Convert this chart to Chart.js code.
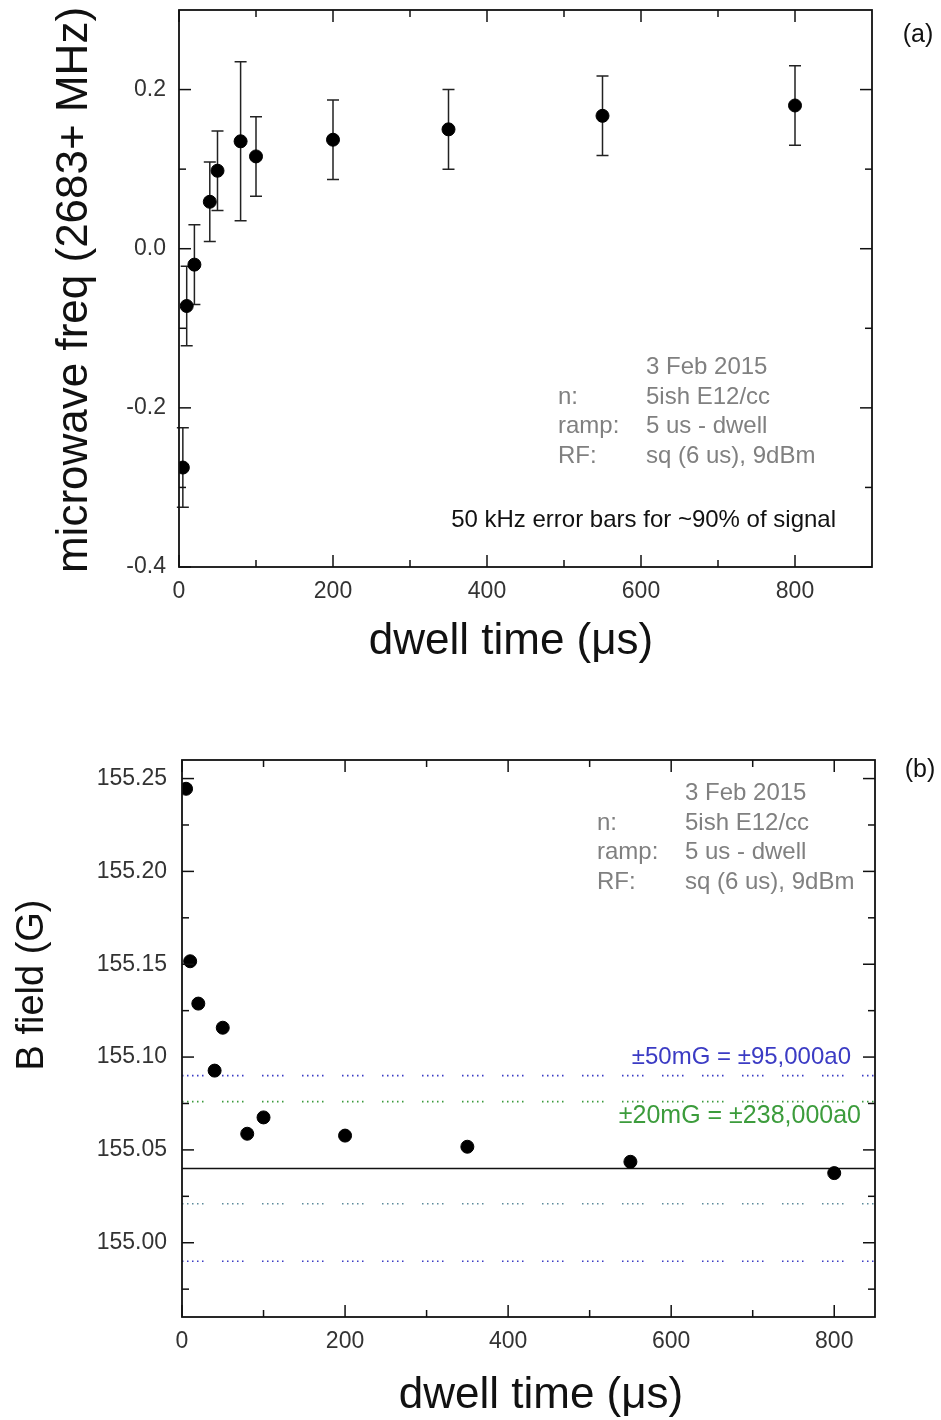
<!DOCTYPE html>
<html>
<head>
<meta charset="utf-8">
<script src="https://cdn.jsdelivr.net/npm/chart.js@4.4.1/dist/chart.umd.min.js"></script>
<style>
  body { margin: 0; background: #fff; width: 941px; height: 1420px; position: relative; overflow: hidden; }
  canvas { position: absolute; left: 0; }
  #chartA { top: 0; }
  #chartB { top: 700px; }
</style>
</head>
<body>
<canvas id="chartA" width="941" height="700"></canvas>
<canvas id="chartB" width="941" height="720"></canvas>
<script>
Chart.defaults.font.family = "'Liberation Sans', Arial, sans-serif";
Chart.defaults.color = '#333';
Chart.defaults.animation = false;

// === Data, panel (a) ===
const dwellA = [5, 10, 20, 40, 50, 80, 100, 200, 350, 550, 800];
const freqA = [-0.275, -0.072, -0.02, 0.059, 0.098, 0.135, 0.116, 0.137, 0.15, 0.167, 0.18];
const errA = [0.05, 0.05, 0.05, 0.05, 0.05, 0.1, 0.05, 0.05, 0.05, 0.05, 0.05];
const xTicksA = [0, 200, 400, 600, 800];
const xMinorA = [100, 300, 500, 700];
const yTicksA = [-0.4, -0.2, 0.0, 0.2];
const yMinorA = [-0.3, -0.1, 0.1];

// === Data, panel (b) ===
const dwellB = [5, 10, 20, 40, 50, 80, 100, 200, 350, 550, 800];
const fieldB = [155.2445, 155.1516, 155.1288, 155.0927, 155.1158, 155.0587, 155.0675, 155.0577, 155.0517, 155.0436, 155.0375];
const centerB = 155.04;
const band50B = [155.09, 154.99];
const band20B = [155.076, 155.021];
const xTicksB = [0, 200, 400, 600, 800];
const xMinorB = [100, 300, 500, 700];
const yTicksB = [155.00, 155.05, 155.10, 155.15, 155.20, 155.25];
const yMinorB = [154.975, 155.025, 155.075, 155.125, 155.175, 155.225];

// frame round the plot, ticks pointing inwards on all four sides
const frameTicks = {
    id: 'frameTicks',
    afterDraw(chart, args, opts) {
        const { ctx, chartArea: a, scales: { x, y } } = chart;
        ctx.save();
        ctx.strokeStyle = '#111';
        ctx.lineWidth = 1.5;
        const seg = (x1, y1, x2, y2) => { ctx.beginPath(); ctx.moveTo(x1, y1); ctx.lineTo(x2, y2); ctx.stroke(); };
        const xt = (vals, len) => vals.forEach(v => {
            const p = x.getPixelForValue(v);
            seg(p, a.bottom, p, a.bottom - len);
            seg(p, a.top, p, a.top + len);
        });
        const yt = (vals, len) => vals.forEach(v => {
            const p = y.getPixelForValue(v);
            seg(a.left, p, a.left + len, p);
            seg(a.right, p, a.right - len, p);
        });
        xt(opts.xMajor, 12); xt(opts.xMinor, 7);
        yt(opts.yMajor, 12); yt(opts.yMinor, 7);
        ctx.lineWidth = 1.8;
        ctx.strokeRect(a.left, a.top, a.right - a.left, a.bottom - a.top);
        ctx.restore();
    }
};

const errorBars = {
    id: 'errorBars',
    beforeDatasetsDraw(chart, args, opts) {
        if (!opts.err) return;
        const { ctx, scales: { x, y } } = chart;
        const pts = chart.data.datasets[0].data;
        ctx.save();
        ctx.strokeStyle = '#222';
        ctx.lineWidth = 1.5;
        pts.forEach((pt, i) => {
            const px = x.getPixelForValue(pt.x);
            const top = y.getPixelForValue(pt.y + opts.err[i]);
            const bot = y.getPixelForValue(pt.y - opts.err[i]);
            ctx.beginPath();
            ctx.moveTo(px, top); ctx.lineTo(px, bot);
            ctx.moveTo(px - 6, top); ctx.lineTo(px + 6, top);
            ctx.moveTo(px - 6, bot); ctx.lineTo(px + 6, bot);
            ctx.stroke();
        });
        ctx.restore();
    }
};

// free text: notes, panel letters and the axis titles
const notes = {
    id: 'notes',
    afterDraw(chart, args, opts) {
        const ctx = chart.ctx;
        opts.items.forEach(n => {
            ctx.save();
            ctx.textBaseline = 'middle';
            ctx.font = `${n.size || 24}px 'Liberation Sans', Arial, sans-serif`;
            ctx.fillStyle = n.color || '#808080';
            ctx.textAlign = n.align || 'left';
            ctx.translate(n.x, n.y);
            if (n.rotate) ctx.rotate(n.rotate);
            ctx.fillText(n.text, 0, 0);
            ctx.restore();
        });
    }
};

function axes(opts) {
    return {
        x: {
            type: 'linear', min: opts.xMin, max: opts.xMax,
            grid: { display: false, drawTicks: false }, border: { display: false },
            afterBuildTicks: s => { s.ticks = opts.xTicks.map(v => ({ value: v })); },
            afterFit: s => { s.height = opts.xHeight; s.paddingLeft = 0; s.paddingRight = 0; },
            ticks: { font: { size: 23 }, color: '#333', padding: 11, maxRotation: 0, callback: v => String(v) }
        },
        y: {
            type: 'linear', min: opts.yMin, max: opts.yMax,
            grid: { display: false, drawTicks: false }, border: { display: false },
            afterBuildTicks: s => { s.ticks = opts.yTicks.map(v => ({ value: v })); },
            afterFit: s => { s.width = opts.yWidth; s.paddingTop = 0; s.paddingBottom = 0; },
            ticks: { font: { size: 23 }, color: '#333', padding: opts.yPad, callback: v => v.toFixed(opts.digits) }
        }
    };
}

// === Panel (a) ===
new Chart(document.getElementById('chartA'), {
    type: 'scatter',
    data: {
        datasets: [{
            data: dwellA.map((t, i) => ({ x: t, y: freqA[i] })),
            backgroundColor: '#000',
            borderColor: '#000',
            pointRadius: 6.5
        }]
    },
    options: {
        responsive: false,
        layout: { padding: { left: 0, right: 69, top: 10, bottom: 0 } },
        scales: axes({
            xMin: 0, xMax: 900, xTicks: xTicksA, xHeight: 133,
            yMin: -0.4, yMax: 0.3, yTicks: yTicksA, yWidth: 179, digits: 1, yPad: 13
        }),
        plugins: {
            legend: { display: false },
            tooltip: { enabled: false },
            frameTicks: { xMajor: xTicksA, xMinor: xMinorA, yMajor: yTicksA, yMinor: yMinorA },
            errorBars: { err: errA },
            notes: {
                items: [
                    { text: '3 Feb 2015', x: 646, y: 367 },
                    { text: 'n:', x: 558, y: 397 },
                    { text: '5ish E12/cc', x: 646, y: 397 },
                    { text: 'ramp:', x: 558, y: 426 },
                    { text: '5 us - dwell', x: 646, y: 426 },
                    { text: 'RF:', x: 558, y: 456 },
                    { text: 'sq (6 us), 9dBm', x: 646, y: 456 },
                    { text: '50 kHz error bars for ~90% of signal', x: 836, y: 520, align: 'right', color: '#111' },
                    { text: '(a)', x: 918, y: 35, align: 'center', color: '#111', size: 25 },
                    { text: 'dwell time (\u03bcs)', x: 511, y: 642, align: 'center', color: '#111', size: 44 },
                    { text: 'microwave freq (2683+ MHz)', x: 75, y: 290, align: 'center', color: '#111', size: 44, rotate: -Math.PI / 2 }
                ]
            }
        }
    },
    plugins: [errorBars, frameTicks, notes]
});

// === Panel (b) ===
const dots = [1.5, 3.5, 1.5, 3.5, 1.5, 3.5, 1.5, 3.5, 1.5, 18.5];
const hline = (level, color, dash) => ({
    type: 'line',
    data: [{ x: 0, y: level }, { x: 850, y: level }],
    borderColor: color,
    borderWidth: dash ? 1.6 : 1.5,
    borderDash: dash || [],
    pointRadius: 0,
    order: 2
});

new Chart(document.getElementById('chartB'), {
    type: 'scatter',
    data: {
        datasets: [
            {
                data: dwellB.map((t, i) => ({ x: t, y: fieldB[i] })),
                backgroundColor: '#000',
                borderColor: '#000',
                pointRadius: 6.5,
                order: 0
            },
            hline(centerB, '#111'),
            hline(band50B[0], '#3b3bc4', dots),
            hline(band50B[1], '#3b3bc4', dots),
            hline(band20B[0], '#3c9c3c', dots),
            hline(band20B[1], '#5d8a9a', dots)
        ]
    },
    options: {
        responsive: false,
        layout: { padding: { left: 0, right: 66, top: 60, bottom: 0 } },
        scales: axes({
            xMin: 0, xMax: 850, xTicks: xTicksB, xHeight: 103,
            yMin: 154.96, yMax: 155.26, yTicks: yTicksB, yWidth: 182, digits: 2, yPad: 15
        }),
        plugins: {
            legend: { display: false },
            tooltip: { enabled: false },
            frameTicks: { xMajor: xTicksB, xMinor: xMinorB, yMajor: yTicksB, yMinor: yMinorB },
            errorBars: {},
            notes: {
                items: [
                    { text: '3 Feb 2015', x: 685, y: 93 },
                    { text: 'n:', x: 597, y: 123 },
                    { text: '5ish E12/cc', x: 685, y: 123 },
                    { text: 'ramp:', x: 597, y: 152 },
                    { text: '5 us - dwell', x: 685, y: 152 },
                    { text: 'RF:', x: 597, y: 182 },
                    { text: 'sq (6 us), 9dBm', x: 685, y: 182 },
                    { text: '\u00b150mG = \u00b195,000a0', x: 851, y: 357, align: 'right', color: '#3b3bc4', size: 24 },
                    { text: '\u00b120mG = \u00b1238,000a0', x: 861, y: 416, align: 'right', color: '#3c9c3c', size: 25 },
                    { text: '(b)', x: 920, y: 70, align: 'center', color: '#111', size: 25 },
                    { text: 'dwell time (\u03bcs)', x: 541, y: 696, align: 'center', color: '#111', size: 44 },
                    { text: 'B field (G)', x: 33, y: 285, align: 'center', color: '#111', size: 38, rotate: -Math.PI / 2 }
                ]
            }
        }
    },
    plugins: [errorBars, frameTicks, notes]
});
</script>
</body>
</html>
